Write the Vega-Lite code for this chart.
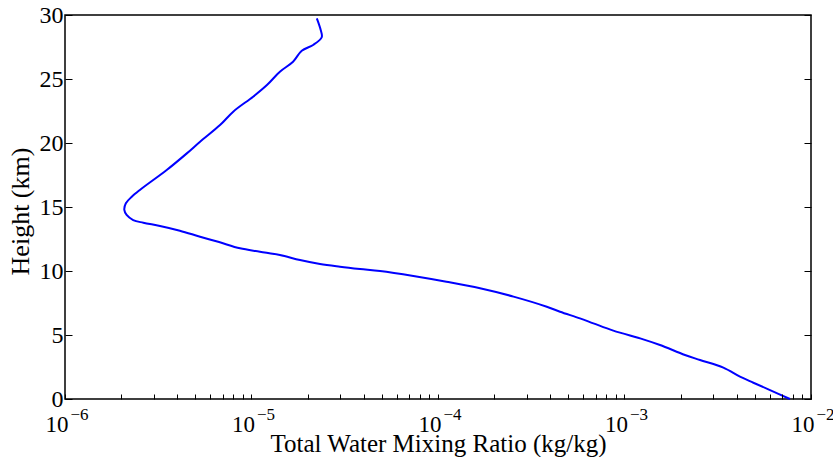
{
  "$schema": "https://vega.github.io/schema/vega-lite/v6.json",
  "autosize": "none",
  "width": 746,
  "height": 384,
  "padding": {"left": 65, "top": 15, "right": 22, "bottom": 58},
  "background": "white",
  "config": {
    "view": {"stroke": "black", "strokeWidth": 1.5},
    "axis": {
      "labelFont": "Liberation Serif",
      "titleFont": "Liberation Serif",
      "labelColor": "black",
      "titleColor": "black",
      "domain": false,
      "grid": false,
      "titleFontWeight": "normal"
    }
  },
  "datasets": {
    "profile": [
      {"h": 0.0, "w": 0.00771},
      {"h": 0.7, "w": 0.00603},
      {"h": 1.27, "w": 0.00491},
      {"h": 1.74, "w": 0.00416},
      {"h": 2.45, "w": 0.00339},
      {"h": 3.05, "w": 0.00254},
      {"h": 3.44, "w": 0.00211},
      {"h": 4.22, "w": 0.00155},
      {"h": 4.66, "w": 0.00126},
      {"h": 5.34, "w": 0.000871},
      {"h": 5.91, "w": 0.000681},
      {"h": 6.3, "w": 0.000577},
      {"h": 6.82, "w": 0.000451},
      {"h": 7.21, "w": 0.000383},
      {"h": 8.0, "w": 0.000254},
      {"h": 8.65, "w": 0.000168},
      {"h": 9.16, "w": 0.000111},
      {"h": 9.61, "w": 0.0000738},
      {"h": 10.0, "w": 0.0000489},
      {"h": 10.16, "w": 0.0000382},
      {"h": 10.34, "w": 0.0000298},
      {"h": 10.55, "w": 0.0000233},
      {"h": 10.86, "w": 0.0000182},
      {"h": 11.25, "w": 0.0000142},
      {"h": 11.51, "w": 0.0000111},
      {"h": 11.77, "w": 0.00000868},
      {"h": 12.26, "w": 0.0000067},
      {"h": 12.68, "w": 0.0000053},
      {"h": 13.15, "w": 0.00000413},
      {"h": 13.52, "w": 0.00000323},
      {"h": 13.77, "w": 0.00000263},
      {"h": 13.98, "w": 0.00000232},
      {"h": 14.38, "w": 0.00000214},
      {"h": 14.77, "w": 0.00000208},
      {"h": 15.29, "w": 0.00000212},
      {"h": 15.8, "w": 0.00000228},
      {"h": 16.33, "w": 0.00000252},
      {"h": 17.89, "w": 0.00000351},
      {"h": 19.19, "w": 0.0000045},
      {"h": 20.1, "w": 0.0000053},
      {"h": 21.4, "w": 0.00000678},
      {"h": 22.45, "w": 0.00000798},
      {"h": 23.62, "w": 0.0000102},
      {"h": 24.53, "w": 0.0000121},
      {"h": 25.57, "w": 0.0000142},
      {"h": 26.35, "w": 0.0000167},
      {"h": 27.21, "w": 0.0000186},
      {"h": 27.66, "w": 0.0000214},
      {"h": 28.26, "w": 0.0000238},
      {"h": 28.83, "w": 0.0000235},
      {"h": 29.74, "w": 0.0000224}
    ]
  },
  "data": {"name": "profile"},
  "resolve": {"axis": {"x": "independent", "y": "independent"}},
  "layer": [
    {
      "mark": {"type": "line", "color": "#0000ff", "strokeWidth": 2, "interpolate": "catmull-rom"},
      "encoding": {
        "x": {
          "field": "w", "type": "quantitative",
          "scale": {"type": "log", "domain": [0.000001, 0.01], "nice": false},
          "axis": {
            "orient": "bottom",
            "title": "Total Water Mixing Ratio (kg/kg)",
            "titleFontSize": 25,
            "titleX": 373,
            "titleY": 52,
            "titleAlign": "center",
            "titleBaseline": "alphabetic",
            "values": [0.000001, 0.00001, 0.0001, 0.001, 0.01],
            "labelExpr": "'10'",
            "labelFontSize": 23,
            "labelAlign": "right",
            "labelBaseline": "alphabetic",
            "labelOffset": 3,
            "labelPadding": 32,
            "ticks": false,
            "labelOverlap": false,
            "labelFlush": false,
            "labelBound": false
          }
        },
        "y": {
          "field": "h", "type": "quantitative",
          "scale": {"domain": [0, 30], "nice": false},
          "axis": {
            "orient": "left",
            "title": "Height (km)",
            "titleFontSize": 26,
            "titleAngle": -90,
            "titleX": -37,
            "titleY": 196,
            "titleAlign": "center",
            "titleBaseline": "alphabetic",
            "labelFontSize": 24,
            "labelPadding": 2,
            "values": [0, 5, 10, 15, 20, 25, 30],
            "ticks": false,
            "labelFlush": false,
            "labelOverlap": false
          }
        },
        "order": {"field": "h", "type": "quantitative"}
      }
    },
    {
      "mark": {"type": "line", "opacity": 0},
      "encoding": {
        "x": {
          "field": "w", "type": "quantitative",
          "scale": {"type": "log", "domain": [0.000001, 0.01], "nice": false},
          "axis": {
            "orient": "bottom",
            "title": null,
            "values": [0.000001, 0.00001, 0.0001, 0.001, 0.01],
            "labelExpr": "'−' + toString(-round(log(datum.value)/LN10))",
            "labelFontSize": 17,
            "labelAlign": "left",
            "labelOffset": 5,
            "labelBaseline": "alphabetic",
            "labelPadding": 20,
            "ticks": false,
            "labelOverlap": false,
            "labelFlush": false,
            "labelBound": false
          }
        },
        "y": {
          "field": "h", "type": "quantitative",
          "scale": {"domain": [0, 30], "nice": false},
          "axis": {
            "orient": "left",
            "offset": -746,
            "title": null,
            "labels": false,
            "ticks": true,
            "tickColor": "black",
            "tickWidth": 1,
            "zindex": 3,
            "values": [0, 5, 10, 15, 20, 25, 30],
            "tickSize": 7
          }
        },
        "order": {"field": "h", "type": "quantitative"}
      }
    },
    {
      "mark": {"type": "line", "opacity": 0},
      "encoding": {
        "x": {
          "field": "w", "type": "quantitative",
          "scale": {"type": "log", "domain": [0.000001, 0.01], "nice": false},
          "axis": {
            "orient": "top",
            "offset": -384,
            "title": null,
            "labels": false,
            "ticks": true,
            "tickColor": "black",
            "tickWidth": 1,
            "zindex": 3,
            "values": [0.000001,0.000002,0.000003,0.000004,0.000005,0.000006,0.000007,0.000008,0.000009,0.00001,0.00002,0.00003,0.00004,0.00005,0.00006,0.00007,0.00008,0.00009,0.0001,0.0002,0.0003,0.0004,0.0005,0.0006,0.0007,0.0008,0.0009,0.001,0.002,0.003,0.004,0.005,0.006,0.007,0.008,0.009,0.01],
            "tickSize": 5
          }
        },
        "y": {
          "field": "h", "type": "quantitative",
          "scale": {"domain": [0, 30], "nice": false},
          "axis": {
            "orient": "right",
            "offset": -746,
            "title": null,
            "labels": false,
            "ticks": true,
            "tickColor": "black",
            "tickWidth": 1,
            "zindex": 3,
            "values": [0, 5, 10, 15, 20, 25, 30],
            "tickSize": 7
          }
        },
        "order": {"field": "h", "type": "quantitative"}
      }
    }
  ]
}
